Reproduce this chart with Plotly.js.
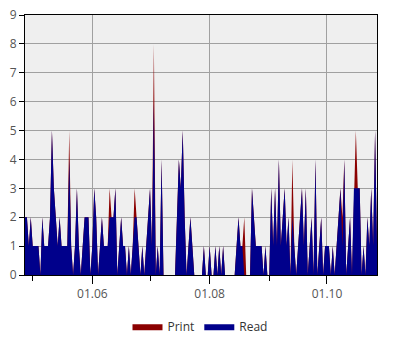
<!DOCTYPE html>
<html>
<head>
<meta charset="utf-8">
<script src="https://cdn.plot.ly/plotly-3.0.1.min.js"></script>
<style>html,body{margin:0;padding:0;background:#fff;}#chart{width:400px;height:350px;}</style>
</head>
<body>
<div id="chart"></div>
<script>
// first day of the daily series
var startDate = '2015-04-27';
var endDate = '2015-10-27';

// daily counts, Apr 27 .. Oct 27
var readApr = [2, 2, 1, 2];
var readMay = [1,1,1,1,0,2,1,1,1,2,5,3,2,1,2,1,1,1,1,4,1,0,1,3,1,0,1,2,2,2,0];
var readJun = [1,3,2,0,1,2,1,1,1,2,2,2,3,0,1,2,1,1,0,1,0,1,2,2,1,0,1,0,1,2];
var readJul = [3,1,6,0,1,0,4,0,0,0,0,0,0,0,2,4,3,5,2,0,1,2,1,0,0,0,0,0,1,0,0];
var readAug = [1,0,0,1,0,1,0,1,0,0,0,0,0,0,1,2,1,1,0,0,0,0,3,2,1,1,1,1,0,1,0];
var readSep = [0,3,1,3,1,4,1,2,3,1,2,0,2,1,0,1,2,3,1,3,0,1,2,0,4,0,1,2,0,1];
var readOct = [1,1,0,1,0,1,2,3,1,4,0,1,2,0,3,3,3,3,0,1,0,2,1,3,1,5,1];

var printApr = [2, 2, 1, 2];
var printMay = [1,1,1,1,0,2,1,1,1,2,5,3,2,1,2,1,1,1,1,5,1,0,1,3,1,0,1,2,2,2,0];
var printJun = [1,3,2,0,1,2,1,1,1,3,2,2,3,0,1,2,1,1,0,1,0,1,3,2,1,0,1,0,1,2];
var printJul = [3,1,8,0,1,0,4,0,0,0,0,0,0,0,2,4,3,5,2,0,1,2,1,0,0,0,0,0,1,0,0];
var printAug = [1,0,0,1,0,1,0,1,0,0,0,0,0,0,1,2,1,1,2,0,0,0,3,2,1,1,1,1,0,1,0];
var printSep = [0,3,1,3,1,4,1,2,3,1,2,0,4,1,0,1,2,3,1,3,0,1,2,0,4,0,1,2,0,1];
var printOct = [1,1,0,1,0,1,2,3,2,4,0,1,2,0,3,5,3,3,0,1,0,2,1,3,1,5,1];

var seriesNames = ['Print', 'Read'];
var seriesColors = ['#8B0000', '#00008B'];

var readValues = [].concat(readApr, readMay, readJun, readJul, readAug, readSep, readOct);
var printValues = [].concat(printApr, printMay, printJun, printJul, printAug, printSep, printOct);

var dates = [];
var d0 = new Date(startDate + 'T00:00:00Z');
for (var i = 0; i < readValues.length; i++) {
  var d = new Date(d0.getTime() + i * 86400000);
  dates.push(d.toISOString().slice(0, 10));
}

var traces = [printValues, readValues].map(function (vals, k) {
  return {
    type: 'scatter',
    mode: 'lines',
    x: dates,
    y: vals,
    name: seriesNames[k],
    fill: 'tozeroy',
    fillcolor: seriesColors[k],
    line: {color: seriesColors[k], width: 0},
    hoverinfo: 'skip'
  };
});

var tickFont = {family: 'Open Sans, sans-serif', size: 12, color: '#555555'};

var layout = {
  width: 400,
  height: 350,
  margin: {l: 25, r: 23, t: 15, b: 75},
  paper_bgcolor: '#ffffff',
  plot_bgcolor: '#efefef',
  showlegend: true,
  legend: {
    orientation: 'h',
    x: 0.5, xanchor: 'center', xref: 'container',
    y: 0.068, yanchor: 'middle', yref: 'container',
    font: {family: 'Open Sans, sans-serif', size: 12, color: '#333333'},
    itemwidth: 30,
    traceorder: 'normal'
  },
  xaxis: {
    type: 'date',
    range: [startDate, endDate],
    tickformat: '%d.%m',
    dtick: 'M2',
    tick0: '2015-06-01',
    ticks: 'outside',
    ticklen: 8,
    tickcolor: '#000000',
    tickfont: tickFont,
    showgrid: true,
    gridcolor: '#a0a0a0',
    gridwidth: 1,
    showline: true,
    linecolor: '#000000',
    linewidth: 1,
    mirror: true,
    zeroline: false,
    automargin: false,
    minor: {dtick: 'M1', tick0: '2015-05-01', ticks: 'outside', ticklen: 5, tickcolor: '#000000', showgrid: false}
  },
  yaxis: {
    range: [0, 9],
    dtick: 1,
    ticks: 'outside',
    ticklen: 5,
    tickcolor: '#000000',
    tickfont: tickFont,
    showgrid: true,
    gridcolor: '#a0a0a0',
    gridwidth: 1,
    showline: true,
    linecolor: '#000000',
    linewidth: 1,
    mirror: true,
    zeroline: false,
    automargin: false,
    fixedrange: true
  }
};

Plotly.newPlot('chart', traces, layout, {staticPlot: true, displayModeBar: false});
</script>
</body>
</html>
